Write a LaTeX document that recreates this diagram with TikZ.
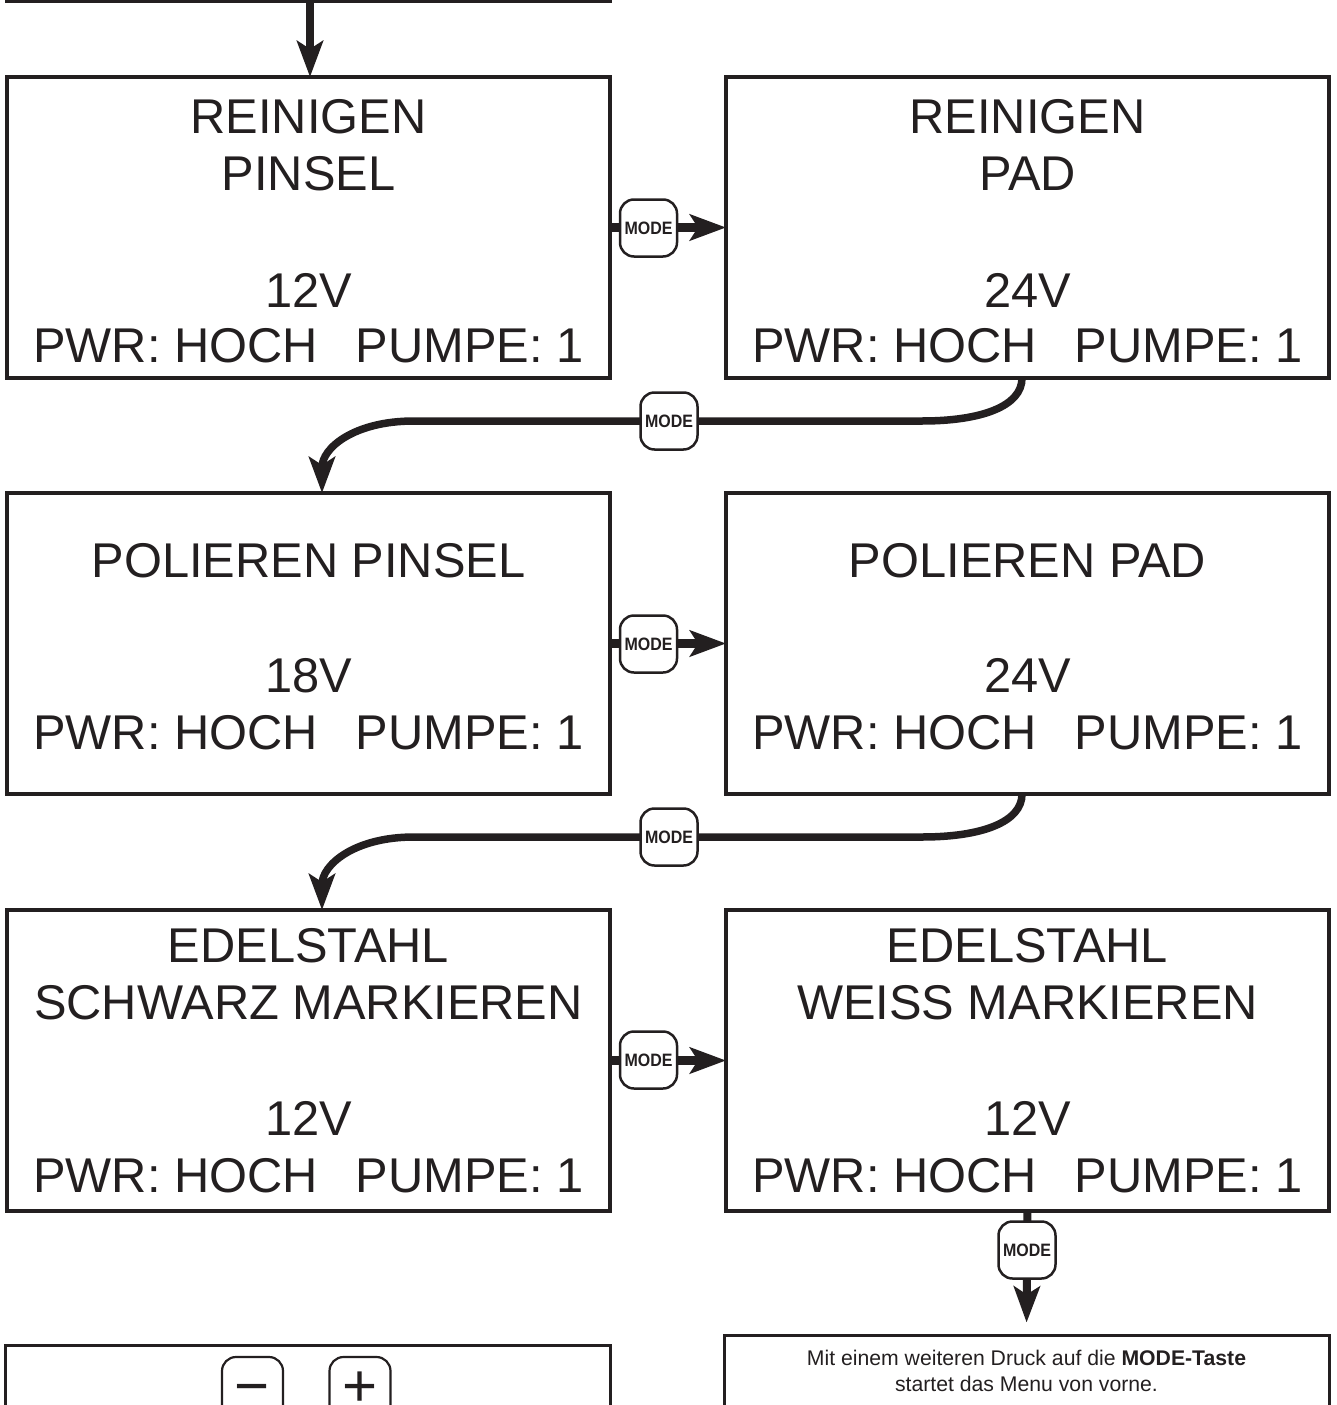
\documentclass[tikz,border=0pt]{standalone}
\usepackage{fontspec}
\setmainfont{Liberation Sans}
\usetikzlibrary{arrows.meta,calc}
\definecolor{ink}{RGB}{35,31,32}
\newcommand{\modetext}{\scalebox{0.98}[1.1]{MODE}}
\newcommand{\keysign}[1]{\raisebox{-0.34em}[0.2em][0.2em]{#1}}
\begin{document}
\begin{tikzpicture}[x=1pt,y=-1pt,
  box/.style={draw=ink,line width=3.5pt,minimum width=603pt,minimum height=301pt,inner sep=0pt,outer sep=0pt},
  big/.style={font=\fontsize{48.8}{50}\selectfont,inner sep=0pt,anchor=base,text=ink},
  small/.style={font=\fontsize{21.2}{22}\selectfont,inner sep=0pt,anchor=base,text=ink},
  conn/.style={draw=ink,line width=8pt,-{Stealth[length=36pt,width=26pt,inset=8pt]}},
  modebtn/.style={draw=ink,fill=white,line width=2.5pt,rounded corners=14pt,minimum width=57pt,minimum height=57pt,inner sep=0pt,text=ink,font=\bfseries\fontsize{16.3}{16}\selectfont},
  keybtn/.style={draw=ink,fill=white,line width=2.2pt,rounded corners=14pt,minimum width=61pt,minimum height=76pt,inner sep=0pt},
  sign/.style={font=\fontsize{60}{60}\selectfont,inner sep=0pt,anchor=center,text=ink},
]
\useasboundingbox (0,0) rectangle (1337,1405);

% boxes
\node[box] (b0) at (308.5,-149.5) {};
\node[box] (b11) at (308.5,227.5) {};
\node[box] (b12) at (1027.5,227.5) {};
\node[box] (b21) at (308.5,643.5) {};
\node[box] (b22) at (1027.5,643.5) {};
\node[box] (b31) at (308.5,1060.5) {};
\node[box] (b32) at (1027.5,1060.5) {};
\node[draw=ink,line width=3pt,minimum width=605pt,minimum height=71pt,inner sep=0pt] (fin) at (1026.5,1370.5) {};
\node[draw=ink,line width=3pt,minimum width=605pt,minimum height=61pt,inner sep=0pt] (keys) at (307.5,1375.5) {};

% texts row 1
\node[big] (t11a) at (308.5,133) {REINIGEN};
\node[big] (t11b) at (308.5,190) {PINSEL};
\node[big] (t11c) at (308.5,307) {12V};
\node[big] (t11d) at (308.5,362) {PWR: HOCH\hspace{38pt}PUMPE: 1};
\node[big] (t12a) at (1027.5,133) {REINIGEN};
\node[big] (t12b) at (1027.5,190) {PAD};
\node[big] (t12c) at (1027.5,307) {24V};
\node[big] (t12d) at (1027.5,362) {PWR: HOCH\hspace{38pt}PUMPE: 1};
% row 2
\node[big] (t21a) at (308.5,577) {POLIEREN PINSEL};
\node[big] (t21c) at (308.5,692) {18V};
\node[big] (t21d) at (308.5,749) {PWR: HOCH\hspace{38pt}PUMPE: 1};
\node[big] (t22a) at (1027.5,577) {POLIEREN PAD};
\node[big] (t22c) at (1027.5,692) {24V};
\node[big] (t22d) at (1027.5,749) {PWR: HOCH\hspace{38pt}PUMPE: 1};
% row 3
\node[big] (t31a) at (308.5,962) {EDELSTAHL};
\node[big] (t31b) at (308.5,1019) {SCHWARZ MARKIEREN};
\node[big] (t31c) at (308.5,1135) {12V};
\node[big] (t31d) at (308.5,1192) {PWR: HOCH\hspace{38pt}PUMPE: 1};
\node[big] (t32a) at (1027.5,962) {EDELSTAHL};
\node[big] (t32b) at (1027.5,1019) {WEISS MARKIEREN};
\node[big] (t32c) at (1027.5,1135) {12V};
\node[big] (t32d) at (1027.5,1192) {PWR: HOCH\hspace{38pt}PUMPE: 1};

% final note
\node[small] (n1) at (1026.5,1365) {Mit einem weiteren Druck auf die \textbf{MODE-Taste}};
\node[small] (n2) at (1026.5,1391) {startet das Menu von vorne.};

% connectors
\draw[conn] ([xshift=1.5pt]b0.south) -- ([xshift=1.5pt]b11.north);
\draw[conn,line width=9pt] (b11.east) -- (b12.west);
\draw[conn,line width=9pt] (b21.east) -- (b22.west);
\draw[conn,line width=9pt] (b31.east) -- (b32.west);
\draw[conn,line width=7.5pt] ([xshift=-5.5pt]b12.south) .. controls +(0,28) and +(60,0) .. (922,421) -- (414,421) .. controls +(-60,0) and +(0,-45) .. ([xshift=13.5pt]b21.north);
\draw[conn,line width=7.5pt] ([xshift=-5.5pt]b22.south) .. controls +(0,28) and +(60,0) .. (922,837) -- (414,837) .. controls +(-60,0) and +(0,-45) .. ([xshift=13.5pt]b31.north);
\draw[conn,shorten >=11pt] (b32.south) -- (fin.north);

% MODE buttons
\node[modebtn] (m1) at (648.5,228) {\modetext};
\node[modebtn] (m2) at (669,421) {\modetext};
\node[modebtn] (m3) at (648.5,644) {\modetext};
\node[modebtn] (m4) at (669,837) {\modetext};
\node[modebtn] (m5) at (648.5,1060) {\modetext};
\node[modebtn] (m6) at (1027,1250) {\modetext};

% +/- keys
\node[keybtn] (kminus) at (252.5,1395) {};
\node[keybtn] (kplus) at (360,1395) {};
\node[sign] (sminus) at (252.5,1386) {\keysign{−}};
\node[sign] (splus) at (360,1386) {\keysign{+}};
\end{tikzpicture}
\end{document}
